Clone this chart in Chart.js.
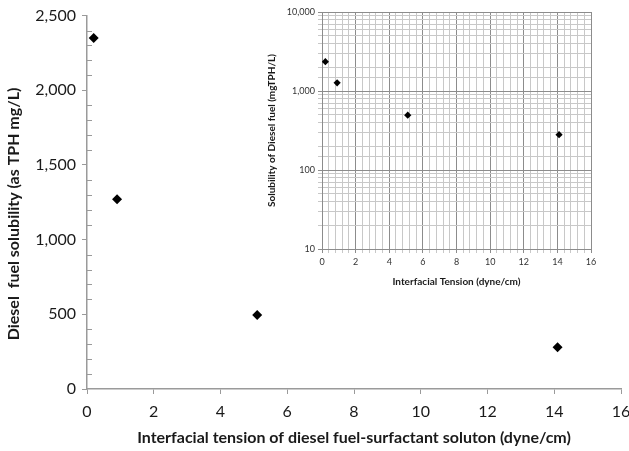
<!DOCTYPE html>
<html>
<head>
<meta charset="utf-8">
<script src="https://cdn.jsdelivr.net/npm/chart.js@4.4.0/dist/chart.umd.min.js"></script>
<style>
  html, body { margin: 0; padding: 0; background: #fff; }
  #wrap { position: relative; width: 629px; height: 451px; }
  #main { position: absolute; left: 0; top: 0; }
  #inset { position: absolute; left: 262px; top: 0; }
</style>
</head>
<body>
<div id="wrap">
  <canvas id="main" width="629" height="451"></canvas>
  <canvas id="inset" width="345" height="292"></canvas>
</div>
<script>
// Data
const tension = [0.2, 0.9, 5.1, 14.1];           // dyne/cm
const solubility = [2350, 1270, 495, 280];        // mg/L as TPH
const mainXTicks = [0, 2, 4, 6, 8, 10, 12, 14, 16];
const mainYLabels = [0, 500, 1000, 1500, 2000, 2500];
const insetYLabels = [10, 100, 1000, 10000];

const FONT = "Lato, 'Open Sans', sans-serif";
const points = tension.map((x, i) => ({ x: x, y: solubility[i] }));

function fmt(v) { return Number(v).toLocaleString('en-US'); }

const minorTickPlugin = {
  id: 'minorTicks',
  afterDraw(chart) {
    const y = chart.scales.y;
    const ctx = chart.ctx;
    ctx.save();
    ctx.strokeStyle = '#9a9a9a';
    ctx.lineWidth = 1;
    for (let v = 0; v <= 2500; v += 100) {
      if (v % 500 === 0) continue;
      const py = Math.round(y.getPixelForValue(v)) + 0.5;
      ctx.beginPath();
      ctx.moveTo(chart.chartArea.left, py);
      ctx.lineTo(chart.chartArea.left + 5, py);
      ctx.stroke();
    }
    ctx.restore();
  }
};

new Chart(document.getElementById('main'), {
  type: 'scatter',
  data: {
    datasets: [{
      data: points,
      pointStyle: 'rectRot',
      pointRadius: 5,
      pointHoverRadius: 5,
      backgroundColor: '#000',
      borderColor: '#000',
      borderWidth: 0
    }]
  },
  options: {
    responsive: false,
    animation: false,
    events: [],
    layout: { padding: { top: 12, right: 8, left: 0, bottom: 0 } },
    plugins: { legend: { display: false }, tooltip: { enabled: false } },
    scales: {
      x: {
        type: 'linear', min: 0, max: 16,
        afterBuildTicks(s) { s.ticks = mainXTicks.map(v => ({ value: v })); },
        ticks: { font: { family: FONT, size: 16 }, color: '#1a1a1a', padding: 8 },
        grid: { drawOnChartArea: false, drawTicks: true, tickLength: 5, color: '#9a9a9a' },
        border: { display: true, color: '#9a9a9a', width: 1.5 },
        title: {
          display: true,
          text: 'Interfacial tension of diesel fuel-surfactant soluton (dyne/cm)',
          font: { family: FONT, size: 16, weight: 'bold' }, color: '#1a1a1a',
          padding: { top: 6 }
        },
        afterFit(s) { s.height = 62; s.paddingRight = 0; s.paddingLeft = 0; }
      },
      y: {
        type: 'linear', min: 0, max: 2500,
        afterBuildTicks(s) { s.ticks = mainYLabels.map(v => ({ value: v })); },
        ticks: { font: { family: FONT, size: 16 }, color: '#1a1a1a', padding: 6, callback: v => fmt(v) },
        grid: { drawOnChartArea: false, drawTicks: true, tickLength: 5, color: '#9a9a9a' },
        border: { display: true, color: '#9a9a9a', width: 1.5 },
        title: {
          display: true,
          text: 'Diesel  fuel solubility (as TPH mg/L)' + '\u00A0'.repeat(6),
          font: { family: FONT, size: 16, weight: 'bold' }, color: '#1a1a1a',
          padding: { bottom: 4 }
        },
        afterFit(s) { s.width = 87; }
      }
    }
  },
  plugins: [minorTickPlugin]
});

new Chart(document.getElementById('inset'), {
  type: 'scatter',
  data: {
    datasets: [{
      data: points,
      pointStyle: 'rectRot',
      pointRadius: 3.6,
      pointHoverRadius: 3.6,
      backgroundColor: '#000',
      borderColor: '#000',
      borderWidth: 0
    }]
  },
  options: {
    responsive: false,
    animation: false,
    events: [],
    layout: { padding: { top: 12, right: 16, left: 0, bottom: 0 } },
    plugins: { legend: { display: false }, tooltip: { enabled: false } },
    scales: {
      x: {
        type: 'linear', min: 0, max: 16,
        ticks: {
          stepSize: 0.4, autoSkip: false, maxRotation: 0,
          font: { family: FONT, size: 9 }, color: '#333', padding: 4,
          callback: v => (Math.abs(v / 2 - Math.round(v / 2)) < 1e-6 ? String(Math.round(v)) : '')
        },
        grid: {
          drawOnChartArea: true, drawTicks: true, tickLength: 4,
          color: c => (Math.abs(c.tick.value / 2 - Math.round(c.tick.value / 2)) < 1e-6 ? '#8c8c8c' : '#c8c8c8'),
          lineWidth: 1
        },
        border: { display: true, color: '#8c8c8c', width: 1 },
        title: {
          display: true, text: 'Interfacial Tension (dyne/cm)',
          font: { family: FONT, size: 10, weight: 'bold' }, color: '#1a1a1a',
          padding: { top: 2 }
        },
        afterFit(s) { s.height = 43; s.paddingRight = 0; s.paddingLeft = 0; }
      },
      y: {
        type: 'logarithmic', min: 10, max: 10000,
        ticks: {
          autoSkip: false,
          font: { family: FONT, size: 9 }, color: '#333', padding: 3,
          callback: v => (insetYLabels.includes(Math.round(v)) && Math.abs(v - Math.round(v)) < 1e-6 ? fmt(Math.round(v)) : '')
        },
        grid: {
          drawOnChartArea: true, drawTicks: true, tickLength: 4,
          color: c => (insetYLabels.includes(Math.round(c.tick.value)) ? '#8c8c8c' : '#c8c8c8'),
          lineWidth: 1
        },
        border: { display: true, color: '#8c8c8c', width: 1 },
        title: {
          display: true, text: 'Solubility of Diesel fuel (mgTPH/L)',
          font: { family: FONT, size: 10, weight: 'bold' }, color: '#1a1a1a',
          padding: { bottom: 2 }
        },
        afterFit(s) { s.width = 60; }
      }
    }
  }
});
</script>
</body>
</html>
